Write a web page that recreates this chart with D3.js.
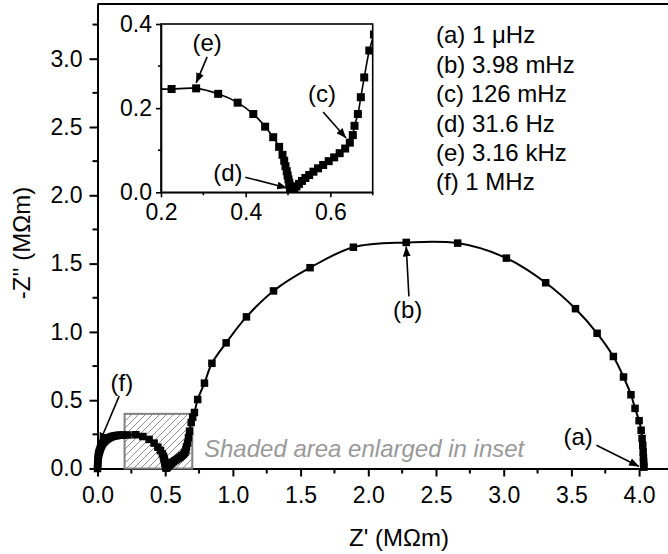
<!DOCTYPE html>
<html>
<head>
<meta charset="utf-8">
<script src="https://cdn.jsdelivr.net/npm/d3@7"></script>
<style>
  body { margin: 0; background: #fff; }
  text { font-family: "Liberation Sans", Arial, sans-serif; }
</style>
</head>
<body>
<script>
// impedance data, Z' and -Z'' in MOhm m (high freq -> low freq)
var zRe = [0.000,0.001,0.002,0.003,0.005,0.007,0.009,0.012,0.015,0.019,
           0.023,0.028,0.033,0.039,0.046,0.054,0.062,0.071,0.081,0.092,
           0.103,0.115,0.128,0.141,0.155,0.170,0.190,0.225,0.283,0.335,
           0.381,0.418,0.446,0.465,0.479,0.487,0.491,0.494,0.497,0.499,
           0.501,0.503,0.504,0.505,0.506,0.508,0.511,0.515,0.520,0.526,
           0.533,0.541,0.550,0.560,0.571,0.583,0.596,0.609,0.622,0.635,
           0.646,0.653,0.657,0.665,0.672,0.680,0.692,0.703,0.716,0.740,
           0.790,0.845,0.950,1.100,1.300,1.570,1.890,2.280,2.660,3.020,
           3.310,3.530,3.690,3.810,3.885,3.940,3.970,4.000,4.015,4.022,
           4.027,4.030,4.032,4.033,4.034,4.035];
var zIm = [0.000,0.020,0.040,0.060,0.080,0.095,0.107,0.118,0.128,0.140,
           0.152,0.163,0.174,0.184,0.193,0.201,0.209,0.216,0.222,0.227,
           0.232,0.236,0.239,0.241,0.243,0.244,0.245,0.2455,0.247,0.234,
           0.213,0.186,0.156,0.131,0.108,0.089,0.075,0.062,0.050,0.040,
           0.031,0.023,0.016,0.010,0.006,0.004,0.005,0.009,0.014,0.020,
           0.027,0.034,0.041,0.049,0.057,0.065,0.074,0.083,0.093,0.104,
           0.118,0.136,0.158,0.186,0.226,0.273,0.337,0.375,0.410,0.505,
           0.625,0.770,0.920,1.110,1.300,1.470,1.620,1.655,1.650,1.540,
           1.360,1.170,0.990,0.820,0.670,0.540,0.440,0.350,0.280,0.220,
           0.170,0.120,0.080,0.050,0.025,0.010];

var xTicks = [0, 0.5, 1.0, 1.5, 2.0, 2.5, 3.0, 3.5, 4.0];
var yTicks = [0, 0.5, 1.0, 1.5, 2.0, 2.5, 3.0];
var insetXTicks = [0.2, 0.4, 0.6];
var insetYTicks = [0.0, 0.2, 0.4];

var legendLabels = ["(a) 1 \u03bcHz", "(b) 3.98 mHz", "(c) 126 mHz",
                    "(d) 31.6 Hz", "(e) 3.16 kHz", "(f) 1 MHz"];

// shaded area (data coords): x0, x1, y0, y1
var shadeBox = [0.2, 0.7, 0, 0.4];

// arrows in main plot: label, label pos, tail, tip
var mainNotes = [
  { t: "(a)", lx: 3.55, ly: 0.23, x1: 3.685, y1: 0.17, x2: 4.00, y2: 0.015 },
  { t: "(b)", lx: 2.29, ly: 1.16, x1: 2.30, y1: 1.26, x2: 2.28, y2: 1.625 },
  { t: "(f)", lx: 0.18, ly: 0.63, x1: 0.16, y1: 0.53, x2: 0.015, y2: 0.19 }
];
// arrows in inset
var insetNotes = [
  { t: "(c)", lx: 0.580, ly: 0.235, x1: 0.583, y1: 0.191, x2: 0.637, y2: 0.129 },
  { t: "(d)", lx: 0.358, ly: 0.048, x1: 0.399, y1: 0.036, x2: 0.498, y2: 0.010 },
  { t: "(e)", lx: 0.309, ly: 0.355, x1: 0.309, y1: 0.322, x2: 0.283, y2: 0.260 }
];

var data = zRe.map(function(d, i) { return { x: d, y: zIm[i] }; });

var W = 668, H = 554;
var svg = d3.select("body").append("svg").attr("width", W).attr("height", H);

var defs = svg.append("defs");
defs.append("marker").attr("id", "arr")
  .attr("viewBox", "0 0 10 8").attr("refX", 10).attr("refY", 4)
  .attr("markerWidth", 10).attr("markerHeight", 8)
  .attr("markerUnits", "userSpaceOnUse").attr("orient", "auto")
  .append("path").attr("d", "M0,0 L10,4 L0,8 Z").attr("fill", "#000");
var pat = defs.append("pattern").attr("id", "hatch")
  .attr("patternUnits", "userSpaceOnUse").attr("width", 7).attr("height", 7);
pat.append("path").attr("d", "M-1,1 L1,-1 M0,7 L7,0 M6,8 L8,6")
  .attr("stroke", "#8c8c8c").attr("stroke-width", 1);

// ---------- main plot ----------
var x = d3.scaleLinear().domain([0, 4.3]).range([97.5, 97.5 + 4.3 * 135.4]);
var y = d3.scaleLinear().domain([0, 3.4]).range([468.5, 468.5 - 3.4 * 136.6]);

var xAxis = d3.axisBottom(x).tickValues(xTicks).tickFormat(d3.format(".1f"))
  .tickSize(8).tickSizeOuter(0);
var yAxis = d3.axisLeft(y).tickValues(yTicks).tickFormat(d3.format(".1f"))
  .tickSize(8).tickSizeOuter(0);

// minor ticks
svg.append("g").selectAll("line").data(d3.range(0.25, 4.3, 0.5)).enter().append("line")
  .attr("x1", function(d) { return x(d); }).attr("x2", function(d) { return x(d); })
  .attr("y1", y(0)).attr("y2", y(0) + 5).attr("stroke", "#000").attr("stroke-width", 2);
svg.append("g").selectAll("line").data(d3.range(0.25, 3.4, 0.5)).enter().append("line")
  .attr("y1", function(d) { return y(d); }).attr("y2", function(d) { return y(d); })
  .attr("x1", x(0) - 5).attr("x2", x(0)).attr("stroke", "#000").attr("stroke-width", 2);

var gx = svg.append("g").attr("transform", "translate(0," + y(0) + ")").call(xAxis);
var gy = svg.append("g").attr("transform", "translate(" + x(0) + ",0)").call(yAxis);
[gx, gy].forEach(function(g) {
  g.select(".domain").attr("stroke-width", 2);
  g.selectAll(".tick line").attr("stroke-width", 2);
  g.selectAll(".tick text").attr("font-size", 23).attr("fill", "#000")
    .style("font-family", "Liberation Sans, Arial, sans-serif");
});
gx.selectAll(".tick text").attr("dy", "0.95em").attr("y", 13);
gy.selectAll(".tick text").attr("x", -15);
// top frame
svg.append("line").attr("x1", x(0)).attr("x2", W + 20).attr("y1", y(3.4)).attr("y2", y(3.4))
  .attr("stroke", "#000").attr("stroke-width", 2);

// axis titles
svg.append("text").attr("x", 399).attr("y", 546).attr("text-anchor", "middle")
  .attr("font-size", 24).text("Z' (M\u03a9m)");
svg.append("text").attr("transform", "translate(30,243) rotate(-90)")
  .attr("text-anchor", "middle").attr("font-size", 24).text("-Z'' (M\u03a9m)");

// shaded box
svg.append("rect")
  .attr("x", x(shadeBox[0])).attr("y", y(shadeBox[3]))
  .attr("width", x(shadeBox[1]) - x(shadeBox[0]))
  .attr("height", y(shadeBox[2]) - y(shadeBox[3]))
  .attr("fill", "url(#hatch)").attr("stroke", "#808080").attr("stroke-width", 2);
svg.append("text").attr("x", 204).attr("y", 457).attr("font-size", 24)
  .attr("font-style", "italic").attr("fill", "#999").text("Shaded area enlarged in inset");

// data
var line = d3.line().x(function(d) { return x(d.x); }).y(function(d) { return y(d.y); })
  .curve(d3.curveCatmullRom);
svg.append("path").datum(data).attr("d", line).attr("fill", "none")
  .attr("stroke", "#000").attr("stroke-width", 2);
svg.append("g").selectAll("rect").data(data).enter().append("rect")
  .attr("x", function(d) { return x(d.x) - 3.75; }).attr("y", function(d) { return y(d.y) - 3.75; })
  .attr("width", 7.5).attr("height", 7.5).attr("fill", "#000");

function notes(g, list, sx, sy) {
  list.forEach(function(n) {
    g.append("line").attr("x1", sx(n.x1)).attr("y1", sy(n.y1))
      .attr("x2", sx(n.x2)).attr("y2", sy(n.y2))
      .attr("stroke", "#000").attr("stroke-width", 1.6).attr("marker-end", "url(#arr)");
    g.append("text").attr("x", sx(n.lx)).attr("y", sy(n.ly)).attr("dy", "0.35em")
      .attr("text-anchor", "middle").attr("font-size", 24).text(n.t);
  });
}
notes(svg, mainNotes, x, y);

// legend
svg.append("g").selectAll("text").data(legendLabels).enter().append("text")
  .attr("x", 436).attr("y", function(d, i) { return 35 + i * 29.4; }).attr("dy", "0.35em")
  .attr("font-size", 24).text(function(d) { return d; });

// ---------- inset ----------
var ix = d3.scaleLinear().domain([0.2, 0.7]).range([161, 372.7]);
var iy = d3.scaleLinear().domain([0, 0.4]).range([192.3, 24]);

var inset = svg.append("g");
defs.append("clipPath").attr("id", "iclip").append("rect")
  .attr("x", ix(0.2)).attr("y", iy(0.4))
  .attr("width", ix(0.7) - ix(0.2)).attr("height", iy(0) - iy(0.4));

inset.append("rect").attr("x", ix(0.2)).attr("y", iy(0.4))
  .attr("width", ix(0.7) - ix(0.2)).attr("height", iy(0) - iy(0.4))
  .attr("fill", "#fff").attr("stroke", "#000").attr("stroke-width", 1.6);

var iline = d3.line().x(function(d) { return ix(d.x); }).y(function(d) { return iy(d.y); })
  .curve(d3.curveCatmullRom);
var idata = inset.append("g").attr("clip-path", "url(#iclip)");
idata.append("path").datum(data).attr("d", iline).attr("fill", "none")
  .attr("stroke", "#000").attr("stroke-width", 1.6);
idata.selectAll("rect").data(data.filter(function(d) { return d.x <= 0.72 && d.y <= 0.42; }))
  .enter().append("rect")
  .attr("x", function(d) { return ix(d.x) - 4; }).attr("y", function(d) { return iy(d.y) - 4; })
  .attr("width", 8).attr("height", 8).attr("fill", "#000");

var ixAxis = d3.axisBottom(ix).tickValues(insetXTicks).tickFormat(d3.format(".1f"))
  .tickSize(5).tickSizeOuter(0);
var iyAxis = d3.axisLeft(iy).tickValues(insetYTicks).tickFormat(d3.format(".1f"))
  .tickSize(5).tickSizeOuter(0);
var igx = inset.append("g").attr("transform", "translate(0," + iy(0) + ")").call(ixAxis);
var igy = inset.append("g").attr("transform", "translate(" + ix(0.2) + ",0)").call(iyAxis);
[igx, igy].forEach(function(g) {
  g.select(".domain").attr("stroke-width", 1.6);
  g.selectAll(".tick line").attr("stroke-width", 1.6);
  g.selectAll(".tick text").attr("font-size", 23).attr("fill", "#000")
    .style("font-family", "Liberation Sans, Arial, sans-serif");
});
igx.selectAll(".tick text").attr("dy", "0.95em").attr("y", 6);
igy.selectAll(".tick text").attr("x", -9);
inset.append("g").selectAll("line").data([0.3, 0.5, 0.7]).enter().append("line")
  .attr("x1", function(d) { return ix(d); }).attr("x2", function(d) { return ix(d); })
  .attr("y1", iy(0)).attr("y2", iy(0) + 3).attr("stroke", "#000").attr("stroke-width", 1.6);
inset.append("g").selectAll("line").data([0.1, 0.3]).enter().append("line")
  .attr("y1", function(d) { return iy(d); }).attr("y2", function(d) { return iy(d); })
  .attr("x1", ix(0.2) - 3).attr("x2", ix(0.2)).attr("stroke", "#000").attr("stroke-width", 1.6);

notes(inset, insetNotes, ix, iy);
</script>
</body>
</html>
